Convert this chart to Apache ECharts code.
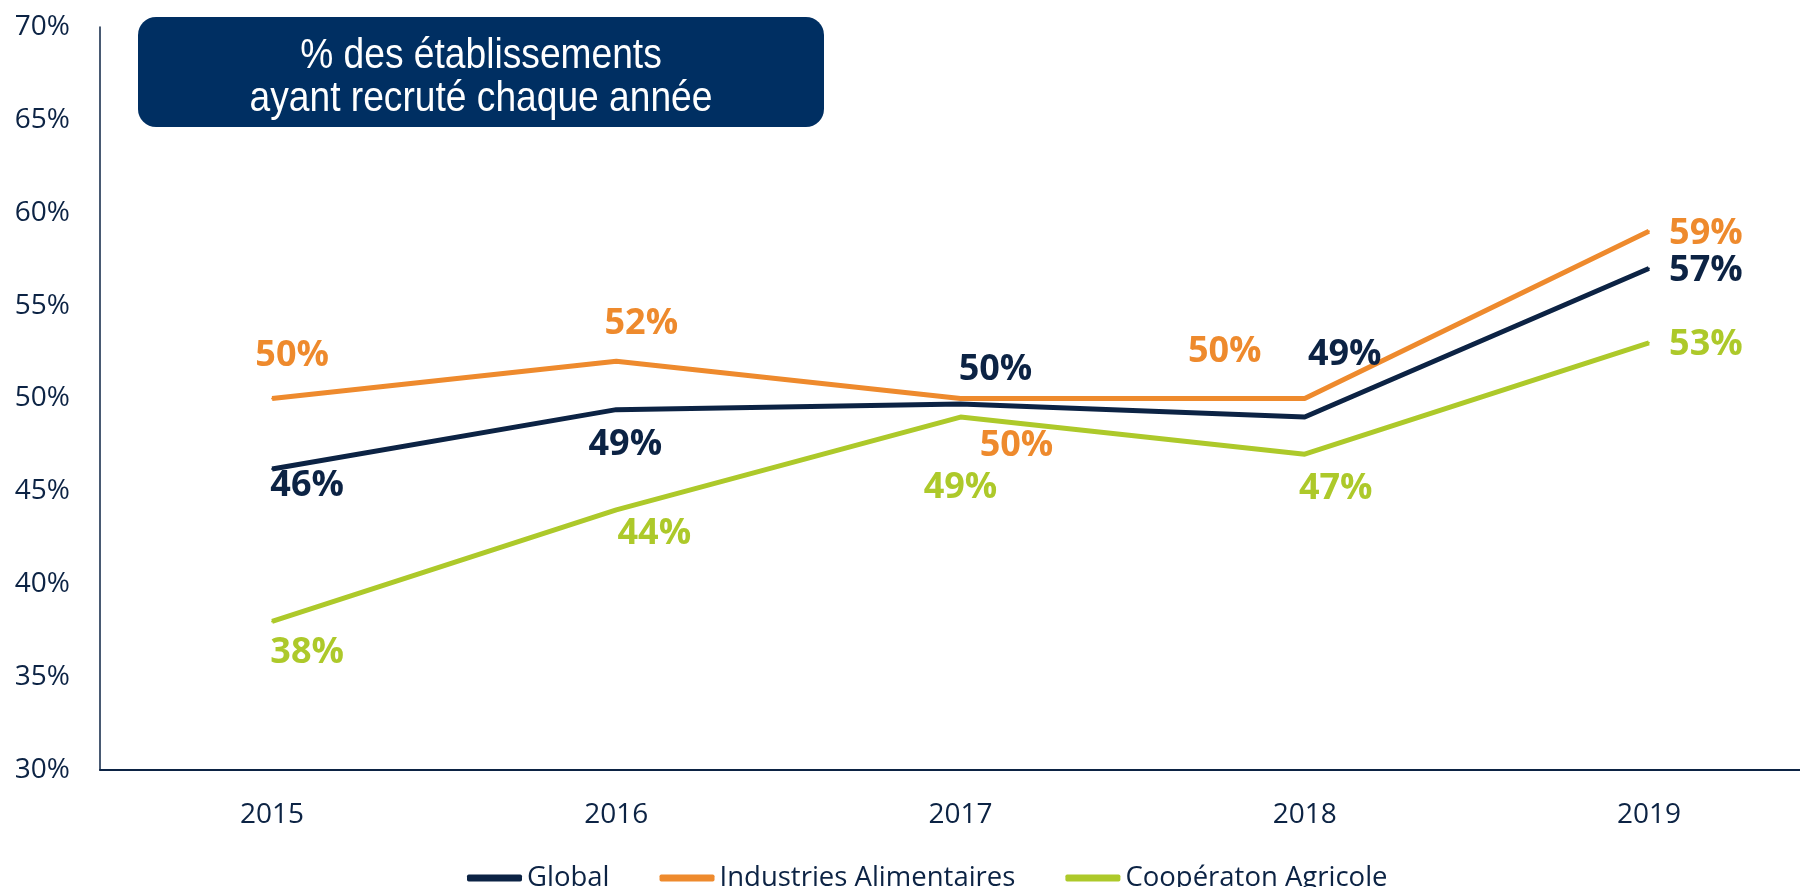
<!DOCTYPE html>
<html>
<head>
<meta charset="utf-8">
<title>% des établissements ayant recruté chaque année</title>
<script src="https://cdn.jsdelivr.net/npm/echarts@6/dist/echarts.min.js"></script>
<style>
  html, body { margin: 0; padding: 0; background: #fff; }
  #chart { width: 1800px; height: 887px; }
</style>
</head>
<body>
<div id="chart"></div>
<script>
// valeurs (en %)
const years = ["2015", "2016", "2017", "2018", "2019"];
const globalValues = [46.2, 49.4, 49.7, 49.0, 57.0];
const industriesValues = [50.0, 52.0, 50.0, 50.0, 59.0];
const coopValues = [38.0, 44.0, 49.0, 47.0, 53.0];
const seriesNames = ["Global", "Industries Alimentaires", "Coopératon Agricole"];
const yTicks = { min: 30, max: 70, step: 5 };

// placement des étiquettes (décalage en px par rapport au point)
const globalOffsets = [[35, 17], [9, 35], [35, -34], [40, -62], [57, 2]];
const industriesOffsets = [[20, -43], [25, -38], [56, 47], [-80, -47], [57, 2]];
const coopOffsets = [[35, 31], [38, 24], [0, 71], [31, 35], [57, 2]];

const NAVY = "#0c2344";
const ORANGE = "#ee8a2d";
const GREEN = "#adc92a";
const BOX = "#002f62";

const chart = echarts.init(document.getElementById("chart"));

function makeSeries(name, values, offsets, color) {
  return {
    name: name,
    type: "line",
    data: values.map((v, i) => ({
      value: v,
      label: { offset: offsets[i] },
    })),
    symbol: "circle",
    symbolSize: 2,
    showSymbol: true,
    itemStyle: { color: color },
    lineStyle: { color: color, width: 5 },
    emphasis: { disabled: true },
    label: {
      show: true,
      position: "inside",
      color: color,
      fontFamily: "Open Sans",
      fontWeight: "bold",
      fontSize: 36,
      formatter: (p) => Math.round(p.value) + "%",
    },
  };
}

const option = {
  animation: false,
  // l'axe des x dépasse le bord droit de l'image
  grid: {
    left: 100,
    width: 1721,
    top: 27,
    height: 743,
    containLabel: false,
    outerBoundsMode: "none",
  },
  legend: {
    top: 859,
    left: 462,
    itemWidth: 55,
    itemHeight: 7,
    itemGap: 50,
    icon: "roundRect",
    data: seriesNames,
    textStyle: { color: NAVY, fontFamily: "Open Sans", fontSize: 27.5 },
  },
  xAxis: {
    type: "category",
    data: years,
    boundaryGap: true,
    axisTick: { show: false },
    axisLine: { lineStyle: { color: NAVY, width: 2 } },
    axisLabel: {
      color: NAVY,
      fontFamily: "Open Sans",
      fontSize: 28,
      margin: 31,
    },
  },
  yAxis: {
    type: "value",
    min: yTicks.min,
    max: yTicks.max,
    interval: yTicks.step,
    splitLine: { show: false },
    axisTick: { show: false },
    axisLine: { show: true, lineStyle: { color: NAVY, width: 1.5 } },
    axisLabel: {
      color: NAVY,
      fontFamily: "Open Sans",
      fontSize: 28,
      margin: 30,
      formatter: "{value}%",
    },
  },
  graphic: [
    {
      type: "rect",
      shape: { x: 138, y: 17, width: 686, height: 110, r: 18 },
      style: { fill: BOX },
      z: 10,
    },
    {
      type: "text",
      x: 481,
      y: 78,
      scaleX: 0.885,
      z: 11,
      style: {
        text: "% des établissements\nayant recruté chaque année",
        fill: "#fff",
        font: "42px 'Liberation Sans', Arial, sans-serif",
        align: "center",
        verticalAlign: "middle",
        lineHeight: 43,
      },
    },
  ],
  series: [
    makeSeries(seriesNames[0], globalValues, globalOffsets, NAVY),
    makeSeries(seriesNames[1], industriesValues, industriesOffsets, ORANGE),
    makeSeries(seriesNames[2], coopValues, coopOffsets, GREEN),
  ],
};

chart.setOption(option);
</script>
</body>
</html>
